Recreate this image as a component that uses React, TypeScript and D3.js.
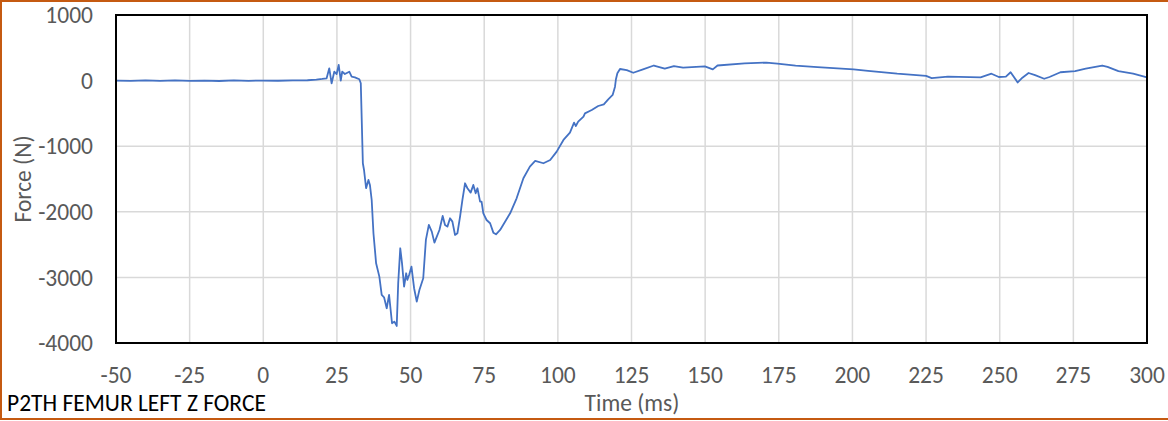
import React from "react";
import * as d3 from "d3";

const timeMs: number[] = [
  -50, -45, -40, -35, -30, -25, -20, -15, -10, -5, 0, 5, 10, 15, 18, 20, 21.5,
  22.4, 23.2, 24.1, 24.9, 25.6, 26.3, 26.8, 27.7, 29.2, 30, 31.1, 32.6, 33.1,
  33.8, 34.2, 34.9, 35.7, 36.2, 36.8, 37.4, 38.3, 39.4, 40.2, 41, 41.9, 42.7,
  43, 43.7, 44.5, 45.3, 45.8, 46.5, 47.1, 47.8, 48.5, 48.9, 49.5, 50.3, 51.2,
  52.1, 53, 54.3, 55.2, 56.2, 57.2, 58.1, 58.9, 59.8, 60.9, 61.7, 62.5, 63.4,
  64.2, 65.1, 65.9, 66.8, 67.6, 68.5, 69.3, 70.4, 71.3, 72.1, 72.7, 73.6, 74.1,
  74.7, 75.8, 77, 78.1, 79, 80.4, 83.8, 86, 88.3, 90.5, 92.3, 95.1, 97.4, 99.6,
  101.9, 104.1, 105.5, 106.1, 106.9, 108.7, 109.2, 111.5, 113.7, 115.6, 117.1,
  118.6, 119.4, 119.7, 120.2, 121.1, 123.4, 125.6, 128.9, 132.6, 136.3, 139.4,
  142.5, 149.9, 152.6, 154.2, 163.4, 170.8, 174.5, 180.7, 188.1, 200.4, 205.3,
  215.2, 225, 226.9, 232.4, 243.5, 247.2, 249.7, 252.1, 253.7, 256.1, 257.7,
  259.8, 262, 265.1, 266.9, 270.6, 275.6, 279.2, 284.8, 286.6, 290.3, 295.3, 300,
];

const forceN: number[] = [
  0, -5, 3, -3, 2, -4, 0, -6, 2, -3, 0, -2, 3, 5, 15, 25, 35,
  187, -41, 136, 100, 238, 0, 136, 100, 136, 60, 50, 20, -41,
  -1260, -1363, -1640, -1515, -1590, -1820, -2327, -2785, -2988, -3267, -3303, -3470, -3267,
  -3394, -3699, -3674, -3740, -3090, -2556, -2785, -3141, -2937, -3039, -2963, -2836, -3165,
  -3370, -3191, -3013, -2429, -2200, -2302, -2470, -2379, -2277, -2063, -2200, -2226, -2099,
  -2150, -2353, -2327, -2074, -1820, -1565, -1641, -1708, -1591, -1718, -1641, -1845, -1845,
  -2023, -2125, -2175, -2318, -2343, -2277, -2023, -1794, -1489, -1312, -1225, -1260, -1210, -1083,
  -905, -794, -641, -692, -626, -550, -499, -448, -387, -361, -285,
  -219, -93, 17, 111, 177, 160, 120, 170, 230, 182, 220,
  199, 216, 171, 230, 262, 275, 260, 227, 205, 171, 149,
  105, 72, 39, 61, 50, 105, 55, 61, 127, -28, 44,
  116, 83, 28, 55, 127, 144, 182, 230, 210, 144, 105, 50,
];

const xTicks: number[] = [-50, -25, 0, 25, 50, 75, 100, 125, 150, 175, 200, 225, 250, 275, 300];
const yTicks: number[] = [1000, 0, -1000, -2000, -3000, -4000];

const chartTitle = "P2TH FEMUR LEFT Z FORCE";
const xTitle = "Time (ms)";
const yTitle = "Force (N)";

const W = 1168;
const H = 421;
const plot = { left: 116, right: 1147, top: 15, bottom: 343 };
const FONT = "Calibri, Carlito, 'Open Sans', sans-serif";
const GRAY = "#595959";
const FS = 23.5;

export default function App() {
  const x = d3.scaleLinear().domain([-50, 300]).range([plot.left, plot.right]);
  const y = d3.scaleLinear().domain([-4000, 1000]).range([plot.bottom, plot.top]);
  const pts: [number, number][] = timeMs.map((t, i) => [t, forceN[i]]);
  const line = d3
    .line<[number, number]>()
    .x((d) => x(d[0]))
    .y((d) => y(d[1]));

  return (
    <div style={{ position: "absolute", left: 0, top: 0 }}>
      <svg width={W} height={H} style={{ display: "block" }}>
        <rect x={0} y={0} width={W} height={H} fill="#fff" />
        <rect x={1} y={1} width={W + 10} height={418} fill="#fff" stroke="#C55A11" strokeWidth={2} />
        {xTicks.map((t) => (
          <line key={"gx" + t} x1={x(t)} x2={x(t)} y1={plot.top} y2={plot.bottom} stroke="#d9d9d9" strokeWidth={1.5} />
        ))}
        {yTicks.map((v) => (
          <line key={"gy" + v} x1={plot.left} x2={plot.right} y1={y(v)} y2={y(v)} stroke="#d9d9d9" strokeWidth={1.5} />
        ))}
        <path d={line(pts) || ""} fill="none" stroke="#4472C4" strokeWidth={1.8} strokeLinejoin="round" />
        <rect
          x={plot.left}
          y={plot.top}
          width={plot.right - plot.left}
          height={plot.bottom - plot.top}
          fill="none"
          stroke="#000"
          strokeWidth={2}
        />
        {yTicks.map((v) => (
          <text key={"ty" + v} x={93} y={y(v)} dy="0.35em" textAnchor="end" fontFamily={FONT} fontSize={FS} fill={GRAY}>
            {v}
          </text>
        ))}
        {xTicks.map((t) => (
          <text key={"tx" + t} x={x(t)} y={383} textAnchor="middle" fontFamily={FONT} fontSize={FS} fill={GRAY}>
            {t}
          </text>
        ))}
        <text x={632} y={411} textAnchor="middle" fontFamily={FONT} fontSize={FS} fill={GRAY}>
          {xTitle}
        </text>
        <text
          transform={`translate(31,179) rotate(-90)`}
          textAnchor="middle"
          fontFamily={FONT}
          fontSize={FS}
          fill={GRAY}
        >
          {yTitle}
        </text>
        <text x={7} y={411} fontFamily={FONT} fontSize={FS} fill="#000">
          {chartTitle}
        </text>
      </svg>
    </div>
  );
}
